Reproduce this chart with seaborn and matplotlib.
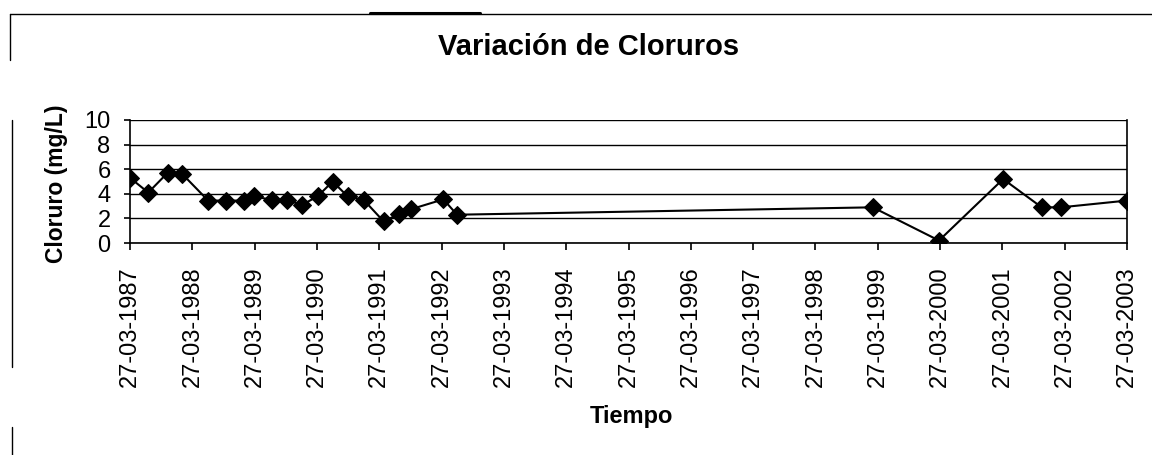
import matplotlib
matplotlib.use("Agg")
import matplotlib.pyplot as plt
import matplotlib.dates as mdates
from matplotlib.lines import Line2D
import seaborn as sns
import pandas as pd
import datetime as dt

fechas = [
    "1987-03-27", "1987-07-12", "1987-11-02", "1988-01-28", "1988-06-27",
    "1988-10-07", "1989-01-24", "1989-03-24", "1989-07-04", "1989-09-30",
    "1989-12-30", "1990-03-31", "1990-06-27", "1990-09-22", "1990-12-26",
    "1991-04-22", "1991-07-19", "1991-09-30", "1992-04-06", "1992-06-25",
    "1999-02-26", "2000-03-20", "2001-03-31", "2001-11-12", "2002-03-05",
    "2003-03-27",
]
cloruro = [
    5.3, 4.1, 5.7, 5.6, 3.45,
    3.45, 3.45, 3.8, 3.5, 3.5,
    3.1, 3.8, 5.0, 3.8, 3.5,
    1.75, 2.35, 2.75, 3.55, 2.3,
    2.9, 0.2, 5.2, 2.9, 2.9,
    3.45,
]
anios_ticks = list(range(1987, 2004))
y_ticks = [0, 2, 4, 6, 8, 10]

df = pd.DataFrame({"Tiempo": pd.to_datetime(fechas), "Cloruro": cloruro})

sns.set_theme(style="white")
plt.rcParams["font.family"] = ["Liberation Sans", "DejaVu Sans"]
plt.rcParams["text.color"] = "black"
plt.rcParams["axes.labelcolor"] = "black"
plt.rcParams["xtick.color"] = "black"
plt.rcParams["ytick.color"] = "black"

W, H = 1152, 455
fig = plt.figure(figsize=(11.52, 4.55), dpi=100)
ax = fig.add_axes([130 / W, 1 - 243 / H, (1127 - 130) / W, (243 - 120) / H])

sns.lineplot(data=df, x="Tiempo", y="Cloruro", ax=ax, color="black",
             marker="D", markersize=9, markeredgecolor="black",
             linewidth=1.5)

ax.set_xlim(dt.datetime(1987, 3, 27), dt.datetime(2003, 3, 27))
ax.set_ylim(0, 10)
ax.set_yticks(y_ticks)
ax.set_xticks([dt.datetime(y, 3, 27) for y in anios_ticks])
ax.xaxis.set_major_formatter(mdates.DateFormatter("%d-%m-%Y"))
for lab in ax.get_xticklabels():
    lab.set_rotation(90)

ax.grid(axis="y", color="black", linewidth=1.0)
ax.grid(axis="x", visible=False)
ax.tick_params(axis="x", which="major", length=5, width=1.2, color="black",
               bottom=True, labelsize=17, pad=12)
ax.tick_params(axis="y", which="major", length=4, width=1.2, color="black",
               left=True, labelsize=17, pad=10)
for side in ["left", "bottom", "right"]:
    ax.spines[side].set_visible(True)
    ax.spines[side].set_color("black")
    ax.spines[side].set_linewidth(1.2)
ax.spines["top"].set_visible(False)

ax.set_xlabel("Tiempo", fontsize=17, fontweight="bold")
ax.set_ylabel("Cloruro (mg/L)", fontsize=16.5, fontweight="bold")
ax.xaxis.set_label_coords((631 - 130) / (1127 - 130), -(417 - 243) / (243 - 120))
ax.yaxis.set_label_coords(-(130 - 56) / (1127 - 130), (243 - 184) / (243 - 120))
ax.xaxis.label.set_va("center")
ax.yaxis.label.set_va("center")

fig.text(589 / W, 1 - 47 / H, "Variación de Cloruros", fontsize=21,
         fontweight="bold", ha="center", va="center")

# chart frame remnants (scanned border)
def seg(x0, y0, x1, y1, lw=1.0):
    fig.add_artist(Line2D([x0 / W, x1 / W], [1 - y0 / H, 1 - y1 / H],
                          color="black", linewidth=lw, transform=fig.transFigure))

seg(10, 14, 1152, 14, 1.0)
seg(370, 13, 480, 13, 2.2)
seg(10, 14, 10, 60, 1.0)
seg(12, 120, 12, 367, 1.0)
seg(12, 427, 12, 455, 1.0)

fig.savefig("out.png", dpi=100)
